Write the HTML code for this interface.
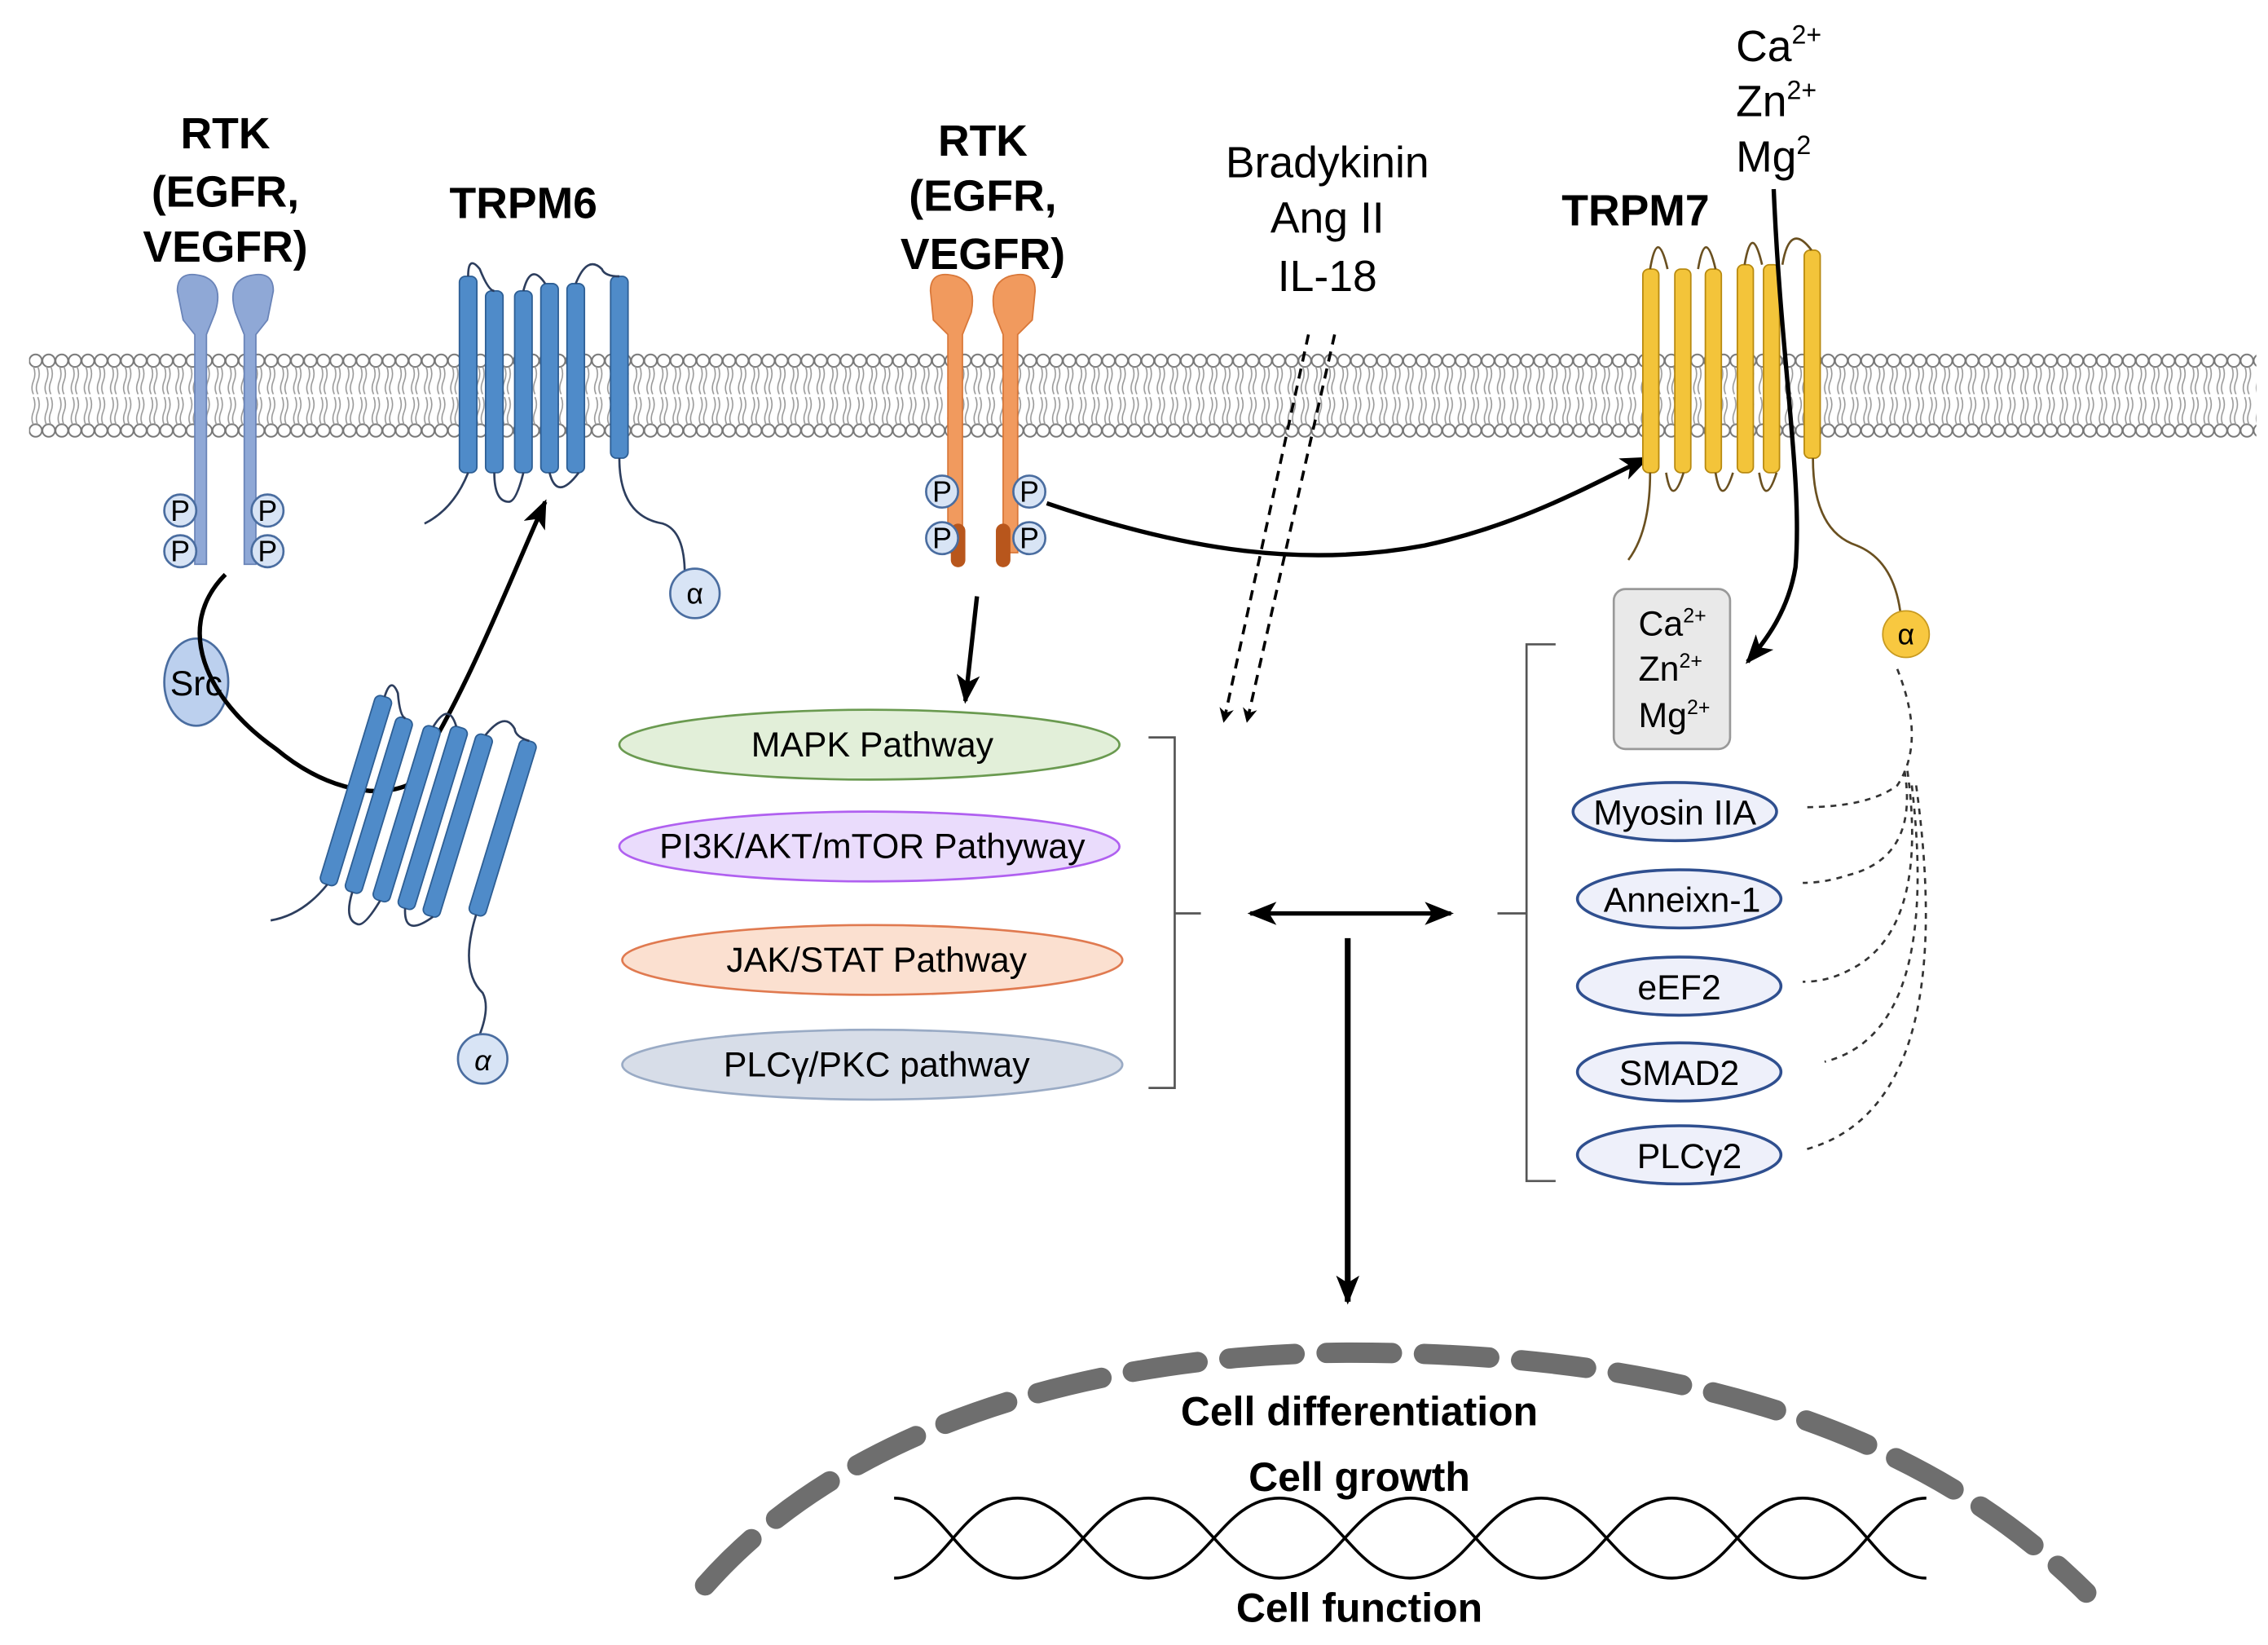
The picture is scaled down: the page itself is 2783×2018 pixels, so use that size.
<!DOCTYPE html>
<html><head><meta charset="utf-8"><style>
html,body{margin:0;padding:0;background:#fff;}
svg{display:block;}
text{font-family:"Liberation Sans",sans-serif;}
</style></head><body>
<svg width="2783" height="2018" viewBox="0 0 1560 1131" preserveAspectRatio="none" xmlns="http://www.w3.org/2000/svg">
<defs>
<pattern id="lip" x="20" y="243" width="9" height="58" patternUnits="userSpaceOnUse">
<circle cx="4.5" cy="5" r="4.3" fill="#fff" stroke="#777" stroke-width="1.1"/>
<circle cx="4.5" cy="53" r="4.3" fill="#fff" stroke="#777" stroke-width="1.1"/>
<path d="M3 9 q2 5 0 10 q-2 5 0 9 M6 9 q2 5 0 10 q-2 5 0 9 M3 30 q2 5 0 10 q-2 5 0 9 M6 30 q2 5 0 10 q-2 5 0 9" stroke="#999" stroke-width="0.9" fill="none"/>
</pattern>
<marker id="ah" markerWidth="10" markerHeight="10" refX="8" refY="5" orient="auto" markerUnits="userSpaceOnUse"><path d="M0,0 L10,5 L0,10 L3,5z" fill="#000"/></marker>
<marker id="ahl" markerWidth="20" markerHeight="16" refX="18" refY="8" orient="auto" markerUnits="userSpaceOnUse"><path d="M0,0 L20,8 L0,16 L5,8z" fill="#000"/></marker>
<marker id="ahs" markerWidth="20" markerHeight="16" refX="2" refY="8" orient="auto" markerUnits="userSpaceOnUse"><path d="M20,0 L0,8 L20,16 L15,8z" fill="#000"/></marker>
</defs>
<rect width="1560" height="1131" fill="#fff"/>
<rect x="20" y="243" width="1532" height="58" fill="url(#lip)"/>

<g fill="#8fa8d6" stroke="#6a84b8">
<path d="M122 200 q0 -15 18 -10 q14 5 8 25 l-6 15 l0 158 l-8 0 l0 -158 l-8 -10z"/>
<path d="M188 200 q0 -15 -18 -10 q-14 5 -8 25 l6 15 l0 158 l8 0 l0 -158 l8 -10z"/>
</g>
<text x="155" y="102" font-size="30" font-weight="bold" text-anchor="middle">RTK</text>
<text x="155" y="142" font-size="30" font-weight="bold" text-anchor="middle">(EGFR,</text>
<text x="155" y="180" font-size="30" font-weight="bold" text-anchor="middle">VEGFR)</text>
<g fill="#d8e4f5" stroke="#4a6da0" stroke-width="1.5">
<circle cx="124" cy="351" r="11"/><circle cx="184" cy="351" r="11"/><circle cx="124" cy="379" r="11"/><circle cx="184" cy="379" r="11"/>
</g>
<g font-size="20" text-anchor="middle"><text x="124" y="358">P</text><text x="184" y="358">P</text><text x="124" y="386">P</text><text x="184" y="386">P</text></g>
<ellipse cx="135" cy="469" rx="22" ry="30" fill="#bcd0ee" stroke="#4a6da0" stroke-width="1.5"/>
<text x="135" y="478" font-size="24" text-anchor="middle">Src</text>
<path d="M155 395 C120 430 140 480 190 515 C220 540 255 550 280 540 C320 480 350 400 375 345" fill="none" stroke="#000" stroke-width="3" marker-end="url(#ahl)"/>

<text x="360" y="150" font-size="30" font-weight="bold" text-anchor="middle">TRPM6</text>
<g fill="#4f8bc9" stroke="#2d5e94" stroke-width="1">
<rect x="316" y="190" width="12" height="135" rx="4"/><rect x="334" y="200" width="12" height="125" rx="4"/><rect x="354" y="200" width="12" height="125" rx="4"/><rect x="372" y="195" width="12" height="130" rx="4"/><rect x="390" y="195" width="12" height="130" rx="4"/><rect x="420" y="190" width="12" height="125" rx="4"/>
</g>
<path d="M322 190 q0 -15 8 -5 q6 15 10 15 M360 200 q5 -20 15 -5 M396 195 q8 -20 18 -10 q2 5 12 5 M340 325 q0 20 10 20 q5 0 10 -20 M378 325 q5 20 20 0 M322 325 q-10 25 -30 35 M426 315 q0 40 30 45 q15 5 15 35" fill="none" stroke="#2d3e5e" stroke-width="1.5"/>
<circle cx="478" cy="408" r="17" fill="#d8e4f5" stroke="#4a6da0" stroke-width="1.5"/><text x="478" y="415" font-size="20" text-anchor="middle">α</text>
<g transform="rotate(17 290 560)">
<g fill="#4f8bc9" stroke="#2d5e94" stroke-width="1">
<rect x="236" y="490" width="12" height="135" rx="4"/><rect x="254" y="500" width="12" height="125" rx="4"/><rect x="274" y="500" width="12" height="125" rx="4"/><rect x="292" y="495" width="12" height="130" rx="4"/><rect x="310" y="495" width="12" height="130" rx="4"/><rect x="340" y="490" width="12" height="125" rx="4"/>
</g>
<path d="M242 490 q0 -15 8 -5 q6 15 10 15 M280 500 q5 -20 15 -5 M316 495 q8 -20 18 -10 q2 5 12 5 M260 625 q0 20 10 20 q5 0 10 -20 M298 625 q5 20 20 0 M242 625 q-10 25 -30 35 M346 615 q0 40 20 50 q10 10 5 40" fill="none" stroke="#2d3e5e" stroke-width="1.5"/>
</g>
<circle cx="332" cy="728" r="17" fill="#d8e4f5" stroke="#4a6da0" stroke-width="1.5"/><text x="332" y="736" font-size="20" text-anchor="middle" font-style="italic">α</text>

<text x="676" y="107" font-size="30" font-weight="bold" text-anchor="middle">RTK</text>
<text x="676" y="145" font-size="30" font-weight="bold" text-anchor="middle">(EGFR,</text>
<text x="676" y="185" font-size="30" font-weight="bold" text-anchor="middle">VEGFR)</text>
<g fill="#f19a5e" stroke="#d9783a">
<path d="M640 200 q0 -15 18 -10 q14 5 10 25 l-6 15 l0 150 l-10 0 l0 -150 l-10 -10z"/>
<path d="M712 200 q0 -15 -18 -10 q-14 5 -10 25 l6 15 l0 150 l10 0 l0 -150 l10 -10z"/>
</g>
<rect x="654" y="360" width="10" height="30" rx="5" fill="#b8561c"/><rect x="685" y="360" width="10" height="30" rx="5" fill="#b8561c"/>
<g fill="#d8e4f5" stroke="#4a6da0" stroke-width="1.5">
<circle cx="648" cy="338" r="11"/><circle cx="708" cy="338" r="11"/><circle cx="648" cy="370" r="11"/><circle cx="708" cy="370" r="11"/>
</g>
<g font-size="20" text-anchor="middle"><text x="648" y="345">P</text><text x="708" y="345">P</text><text x="648" y="377">P</text><text x="708" y="377">P</text></g>
<path d="M720 346 C820 380 900 390 980 375 C1050 360 1100 330 1133 315" fill="none" stroke="#000" stroke-width="3" marker-end="url(#ahl)"/>
<line x1="672" y1="410" x2="664" y2="482" stroke="#000" stroke-width="3" marker-end="url(#ahl)"/>

<g font-size="30" text-anchor="middle"><text x="913" y="122">Bradykinin</text><text x="913" y="160">Ang II</text><text x="913" y="200">IL-18</text></g>
<line x1="900" y1="230" x2="842" y2="495" stroke="#000" stroke-width="2" stroke-dasharray="7,5" marker-end="url(#ah)"/>
<line x1="918" y1="230" x2="858" y2="495" stroke="#000" stroke-width="2" stroke-dasharray="7,5" marker-end="url(#ah)"/>

<ellipse cx="598" cy="512" rx="172" ry="24" fill="#e2efd9" stroke="#6a9a50" stroke-width="1.5"/>
<ellipse cx="598" cy="582" rx="172" ry="24" fill="#eadcfc" stroke="#b060f0" stroke-width="1.5"/>
<ellipse cx="600" cy="660" rx="172" ry="24" fill="#fbe0d0" stroke="#e07a50" stroke-width="1.5"/>
<ellipse cx="600" cy="732" rx="172" ry="24" fill="#d7dde8" stroke="#9aabc5" stroke-width="1.5"/>
<g font-size="24" text-anchor="middle">
<text x="600" y="520">MAPK Pathway</text><text x="600" y="590">PI3K/AKT/mTOR Pathyway</text><text x="603" y="668">JAK/STAT Pathway</text><text x="603" y="740">PLCγ/PKC pathway</text></g>
<path d="M790 507 H808 V748 H790 M808 628 H826" fill="none" stroke="#555" stroke-width="1.5"/>
<line x1="860" y1="628" x2="998" y2="628" stroke="#000" stroke-width="3" marker-start="url(#ahs)" marker-end="url(#ahl)"/>
<path d="M1070 443 H1050 V812 H1070 M1050 628 H1030" fill="none" stroke="#555" stroke-width="1.5"/>
<line x1="927" y1="645" x2="927" y2="895" stroke="#000" stroke-width="4" marker-end="url(#ahl)"/>

<text x="1125" y="155" font-size="30" font-weight="bold" text-anchor="middle">TRPM7</text>
<g font-size="30"><text x="1194" y="42">Ca<tspan font-size="18" dy="-12">2+</tspan></text><text x="1194" y="80">Zn<tspan font-size="18" dy="-12">2+</tspan></text><text x="1194" y="118">Mg<tspan font-size="18" dy="-12">2</tspan></text></g>
<g fill="#f3c43a" stroke="#b88a10" stroke-width="1">
<rect x="1130" y="185" width="11" height="140" rx="4"/><rect x="1152" y="185" width="11" height="140" rx="4"/><rect x="1173" y="185" width="11" height="140" rx="4"/><rect x="1195" y="182" width="11" height="143" rx="4"/><rect x="1213" y="182" width="11" height="143" rx="4"/><rect x="1241" y="172" width="11" height="143" rx="4"/>
</g>
<path d="M1135 185 q5 -30 12 0 M1168 185 q5 -30 12 0 M1200 182 q5 -30 12 0 M1226 182 q5 -30 20 -10 M1146 325 q4 25 12 0 M1180 325 q4 25 12 0 M1210 325 q4 25 12 0 M1135 325 q0 40 -15 60 M1247 315 q0 50 30 60 q25 10 30 45" fill="none" stroke="#6a5020" stroke-width="1.5"/>
<path d="M1220 130 C1225 250 1240 330 1235 390 C1230 420 1215 440 1202 455" fill="none" stroke="#000" stroke-width="3" marker-end="url(#ahl)"/>
<circle cx="1311" cy="436" r="16" fill="#f8c840" stroke="#c89a20"/><text x="1311" y="443" font-size="20" text-anchor="middle">α</text>
<rect x="1110" y="405" width="80" height="110" rx="8" fill="#e9e9e9" stroke="#999" stroke-width="1.5"/>
<g font-size="24"><text x="1127" y="437">Ca<tspan font-size="14" dy="-9">2+</tspan></text><text x="1127" y="468">Zn<tspan font-size="14" dy="-9">2+</tspan></text><text x="1127" y="500">Mg<tspan font-size="14" dy="-9">2+</tspan></text></g>
<g fill="#eef0fa" stroke="#2f4f8f" stroke-width="2">
<ellipse cx="1152" cy="558" rx="70" ry="20"/><ellipse cx="1155" cy="618" rx="70" ry="20"/><ellipse cx="1155" cy="678" rx="70" ry="20"/><ellipse cx="1155" cy="737" rx="70" ry="20"/><ellipse cx="1155" cy="794" rx="70" ry="20"/></g>
<g font-size="24" text-anchor="middle"><text x="1152" y="567">Myosin IIA</text><text x="1157" y="627">Anneixn-1</text><text x="1155" y="687">eEF2</text><text x="1155" y="746">SMAD2</text><text x="1162" y="803">PLCγ2</text></g>
<g fill="none" stroke="#333" stroke-width="1.5" stroke-dasharray="4,4">
<path d="M1305 460 q20 50 0 80 q-20 15 -65 15"/><path d="M1310 530 q10 60 -40 72 q-15 5 -30 5"/><path d="M1312 530 q15 110 -40 137 q-15 8 -32 8"/><path d="M1315 540 q20 170 -60 190"/><path d="M1318 540 q30 220 -75 250"/></g>

<path d="M485 1090 C600 960 800 930 930 930 C1100 930 1300 960 1435 1095" fill="none" stroke="#6e6e6e" stroke-width="14" stroke-dasharray="45,22" stroke-linecap="round"/>
<g fill="none" stroke="#000" stroke-width="2">
<path d="M615 1030 C650 1030 660 1085 700 1085 S750 1030 790 1030 S840 1085 880 1085 S930 1030 970 1030 S1020 1085 1060 1085 S1110 1030 1150 1030 S1200 1085 1240 1085 S1290 1030 1325 1030"/>
<path d="M615 1085 C650 1085 660 1030 700 1030 S750 1085 790 1085 S840 1030 880 1030 S930 1085 970 1085 S1020 1030 1060 1030 S1110 1085 1150 1085 S1200 1030 1240 1030 S1290 1085 1325 1085"/>
</g>
<g font-size="28" font-weight="bold" text-anchor="middle"><text x="935" y="980">Cell differentiation</text><text x="935" y="1025">Cell growth</text><text x="935" y="1115">Cell function</text></g>
</svg>
</body></html>
